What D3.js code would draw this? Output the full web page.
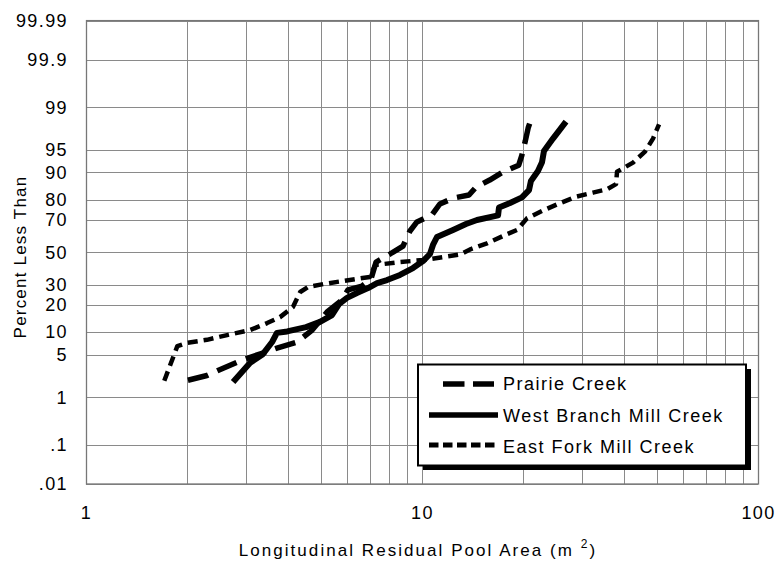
<!DOCTYPE html>
<html>
<head>
<meta charset="utf-8">
<script src="https://cdn.jsdelivr.net/npm/d3@7"></script>
<style>
  body { margin: 0; background: #fff; }
  text { font-family: "Liberation Sans", Arial, sans-serif; fill: #000; }
</style>
</head>
<body>
<svg id="chart" width="776" height="561"></svg>
<script>
// Probability-axis ticks (percent less than)
const percentTicks  = [0.01, 0.1, 1, 5, 10, 20, 30, 50, 70, 80, 90, 95, 99, 99.9, 99.99];
const percentLabels = [".01", ".1", "1", "5", "10", "20", "30", "50", "70", "80", "90", "95", "99", "99.9", "99.99"];
// Log-axis labelled ticks (m^2)
const areaTicks = [1, 10, 100];

const seriesNames = ["Prairie Creek", "West Branch Mill Creek", "East Fork Mill Creek"];

// Prairie Creek: pool area (m^2) and cumulative percent
const prairieArea = [2.01, 2.29, 2.47, 2.82, 3.08, 3.36, 3.70, 4.25, 4.71, 5.22, 5.78, 6.02, 6.63, 7.05, 7.30, 8.03, 8.78, 9.21, 9.66, 10.7, 11.3, 12.4, 13.8, 14.5, 15.9, 17.4, 19.4, 19.8, 20.3, 20.7, 21.3];
const prairiePct  = [2.0, 2.4, 2.9, 3.9, 4.6, 5.3, 6.2, 7.5, 10.6, 16.9, 22.2, 27.3, 29.4, 33.4, 43.8, 48.9, 54.0, 63.4, 68.7, 72.5, 78.1, 80.8, 82.1, 85.3, 87.7, 90.1, 91.9, 93.9, 96.3, 97.7, 98.6];

// West Branch Mill Creek
const westArea = [2.74, 3.08, 3.36, 3.58, 3.70, 3.97, 4.52, 4.97, 5.40, 5.66, 5.98, 6.40, 6.91, 7.35, 7.87, 8.60, 9.40, 10.07, 10.56, 10.78, 11.08, 12.37, 13.52, 14.58, 16.84, 16.95, 18.28, 19.84, 20.82, 21.1, 22.14, 22.76, 23.07, 24.54, 26.83];
const westPct  = [1.87, 3.8, 5.1, 7.5, 9.8, 10.2, 11.5, 13.2, 15.7, 20.3, 23.2, 25.7, 28.3, 31.1, 32.8, 35.8, 40.0, 44.4, 48.9, 54.7, 59.7, 64.0, 67.5, 69.8, 72.3, 76.4, 78.6, 81.1, 84.1, 87.4, 90.4, 92.6, 94.8, 96.6, 98.2];

// East Fork Mill Creek
const eastArea = [1.71, 1.87, 2.00, 2.29, 2.63, 3.08, 3.46, 3.78, 4.13, 4.34, 4.58, 5.08, 5.70, 6.36, 7.00, 7.25, 8.60, 10.14, 12.98, 13.99, 15.61, 17.54, 19.17, 20.53, 22.75, 25.4, 28.73, 32.27, 35.5, 37.8, 38.06, 42.46, 46.1, 48.7, 50.76];
const eastPct  = [1.96, 6.6, 7.3, 8.0, 9.2, 10.6, 12.8, 14.9, 19.0, 26.2, 28.9, 30.5, 32.0, 33.4, 34.6, 41.9, 43.8, 45.1, 48.6, 52.1, 55.7, 60.6, 64.0, 70.7, 74.6, 78.1, 81.4, 83.1, 84.4, 86.3, 90.2, 92.5, 94.7, 96.6, 98.0];

// Inverse standard normal CDF (Acklam's rational approximation)
function probit(p) {
  const a = [-3.969683028665376e+01, 2.209460984245205e+02, -2.759285104469687e+02, 1.383577518672690e+02, -3.066479806614716e+01, 2.506628277459239e+00];
  const b = [-5.447609879822406e+01, 1.615858368580409e+02, -1.556989798598866e+02, 6.680131188771972e+01, -1.328068155288572e+01];
  const c = [-7.784894002430293e-03, -3.223964580411365e-01, -2.400758277161838e+00, -2.549732539343734e+00, 4.374664141464968e+00, 2.938163982698783e+00];
  const d = [7.784695709041462e-03, 3.224671290700398e-01, 2.445134137142996e+00, 3.754408661907416e+00];
  const pl = 0.02425, ph = 1 - pl;
  let q, r;
  if (p < pl) {
    q = Math.sqrt(-2 * Math.log(p));
    return (((((c[0]*q+c[1])*q+c[2])*q+c[3])*q+c[4])*q+c[5]) / ((((d[0]*q+d[1])*q+d[2])*q+d[3])*q+1);
  } else if (p <= ph) {
    q = p - 0.5; r = q * q;
    return (((((a[0]*r+a[1])*r+a[2])*r+a[3])*r+a[4])*r+a[5])*q / (((((b[0]*r+b[1])*r+b[2])*r+b[3])*r+b[4])*r+1);
  } else {
    q = Math.sqrt(-2 * Math.log(1 - p));
    return -(((((c[0]*q+c[1])*q+c[2])*q+c[3])*q+c[4])*q+c[5]) / ((((d[0]*q+d[1])*q+d[2])*q+d[3])*q+1);
  }
}

const margin = { left: 86, right: 758, top: 20.6, bottom: 484 };

const svg = d3.select("#chart");

const x = d3.scaleLog().domain([1, 100]).range([margin.left, margin.right]);
// normal-probability scale: linear in the standard normal deviate
const zScale = d3.scaleLinear()
  .domain([probit(0.0001), probit(0.9999)])
  .range([margin.bottom, margin.top]);
const y = pct => zScale(probit(pct / 100));

// grid
const grid = svg.append("g").attr("stroke", "#8a8a8a").attr("stroke-width", 1);
grid.selectAll("line.v").data(x.ticks()).join("line")
  .attr("x1", d => Math.round(x(d)) + 0.5).attr("x2", d => Math.round(x(d)) + 0.5)
  .attr("y1", margin.top).attr("y2", margin.bottom);
grid.selectAll("line.h").data(percentTicks).join("line")
  .attr("x1", margin.left).attr("x2", margin.right)
  .attr("y1", d => Math.round(y(d)) + 0.5).attr("y2", d => Math.round(y(d)) + 0.5);

svg.append("rect")
  .attr("x", margin.left + 0.5).attr("y", margin.top)
  .attr("width", margin.right - margin.left).attr("height", margin.bottom - margin.top)
  .attr("fill", "none").attr("stroke", "#777").attr("stroke-width", 1.3);

// axes
const yAxis = d3.axisLeft(zScale)
  .tickValues(percentTicks.map(p => probit(p / 100)))
  .tickFormat((d, i) => percentLabels[i])
  .tickSize(0).tickPadding(18);
const gy = svg.append("g").attr("transform", `translate(${margin.left},0)`).call(yAxis);
gy.select(".domain").remove();
gy.selectAll("text").style("font-size", "18px").style("letter-spacing", "1.4px")
  .style("font-family", '"Liberation Sans", Arial, sans-serif');

const xAxis = d3.axisBottom(x).tickValues(areaTicks).tickFormat(d3.format("d"))
  .tickSize(0).tickPadding(22);
const gx = svg.append("g").attr("transform", `translate(0,${margin.bottom})`).call(xAxis);
gx.select(".domain").remove();
gx.selectAll("text").style("font-size", "18px").style("letter-spacing", "1.4px")
  .style("font-family", '"Liberation Sans", Arial, sans-serif');

// axis titles
svg.append("text")
  .attr("transform", "translate(26,257) rotate(-90)")
  .attr("text-anchor", "middle")
  .style("font-size", "17px").style("letter-spacing", "1.2px")
  .text("Percent Less Than");

const xt = svg.append("text")
  .attr("x", 418).attr("y", 556)
  .attr("text-anchor", "middle")
  .style("font-size", "17px").style("letter-spacing", "2.05px");
xt.append("tspan").text("Longitudinal Residual Pool Area (m ");
xt.append("tspan").attr("dy", -8).style("font-size", "12px").text("2");
xt.append("tspan").attr("dy", 8).text(")");

// series
const styles = [
  { dash: "21,10", width: 5.5 },
  { dash: null, width: 6 },
  { dash: "10,6", width: 4.5 }
];
const series = [
  prairieArea.map((a, i) => ({ a, p: prairiePct[i] })),
  westArea.map((a, i) => ({ a, p: westPct[i] })),
  eastArea.map((a, i) => ({ a, p: eastPct[i] }))
];

const line = d3.line().x(d => x(d.a)).y(d => y(d.p));
svg.append("g").selectAll("path").data(series).join("path")
  .attr("d", line)
  .attr("fill", "none")
  .attr("stroke", "#000")
  .attr("stroke-width", (d, i) => styles[i].width)
  .attr("stroke-linejoin", "round")
  .attr("stroke-dasharray", (d, i) => styles[i].dash);

// legend
const lg = svg.append("g");
lg.append("rect").attr("x", 423).attr("y", 369).attr("width", 328).attr("height", 101).attr("fill", "#000");
lg.append("rect").attr("x", 418).attr("y", 364.5).attr("width", 328).attr("height", 101)
  .attr("fill", "#fff").attr("stroke", "#000").attr("stroke-width", 2);

const legendRows = [
  { y: 384, x1: 443, x2: 494, dash: "21.5,8.5", width: 5.5, ty: 390 },
  { y: 415, x1: 429, x2: 498, dash: null, width: 5.5, ty: 421.5 },
  { y: 445, x1: 429, x2: 498, dash: "9.5,4.5", width: 5, ty: 452.5 }
];
legendRows.forEach((r, i) => {
  lg.append("line").attr("x1", r.x1).attr("x2", r.x2).attr("y1", r.y).attr("y2", r.y)
    .attr("stroke", "#000").attr("stroke-width", r.width).attr("stroke-dasharray", r.dash);
  lg.append("text").attr("x", 503).attr("y", r.ty)
    .style("font-size", "18px").style("letter-spacing", "1.5px")
    .text(seriesNames[i]);
});
</script>
</body>
</html>
